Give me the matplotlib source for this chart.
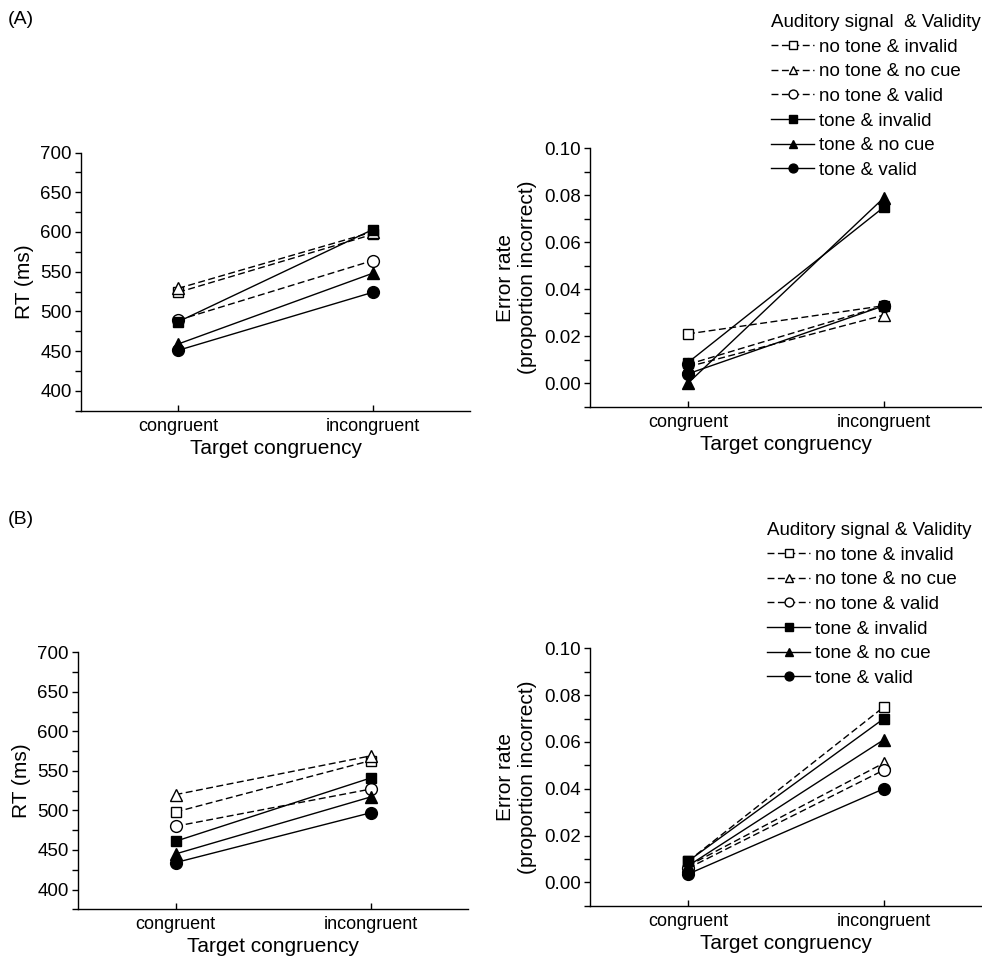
import matplotlib
matplotlib.use("Agg")
import matplotlib.pyplot as plt
from matplotlib.ticker import MultipleLocator

plt.rcParams['font.family'] = ['Liberation Sans', 'DejaVu Sans']

categories = ["congruent", "incongruent"]
series_names = ["no tone & invalid", "no tone & no cue", "no tone & valid",
                "tone & invalid", "tone & no cue", "tone & valid"]

rt_A = {
    "no tone & invalid": [524, 597],
    "no tone & no cue": [529, 600],
    "no tone & valid": [489, 564],
    "tone & invalid": [487, 603],
    "tone & no cue": [459, 548],
    "tone & valid": [451, 524],
}
err_A = {
    "no tone & invalid": [0.021, 0.033],
    "no tone & no cue": [0.007, 0.029],
    "no tone & valid": [0.008, 0.033],
    "tone & invalid": [0.0088, 0.075],
    "tone & no cue": [0.0, 0.079],
    "tone & valid": [0.004, 0.033],
}
rt_B = {
    "no tone & invalid": [498, 563],
    "no tone & no cue": [520, 569],
    "no tone & valid": [480, 527],
    "tone & invalid": [461, 541],
    "tone & no cue": [445, 517],
    "tone & valid": [434, 497],
}
err_B = {
    "no tone & invalid": [0.009, 0.075],
    "no tone & no cue": [0.007, 0.051],
    "no tone & valid": [0.006, 0.048],
    "tone & invalid": [0.009, 0.070],
    "tone & no cue": [0.007, 0.061],
    "tone & valid": [0.0035, 0.040],
}

styles = {
    "no tone & invalid": dict(ls=(0, (5, 2.5)), marker='s', mfc='white', ms=7.5),
    "no tone & no cue": dict(ls=(0, (5, 2.5)), marker='^', mfc='white', ms=8.5),
    "no tone & valid": dict(ls=(0, (5, 2.5)), marker='o', mfc='white', ms=8.5),
    "tone & invalid": dict(ls='-', marker='s', mfc='black', ms=7.5),
    "tone & no cue": dict(ls='-', marker='^', mfc='black', ms=8.5),
    "tone & valid": dict(ls='-', marker='o', mfc='black', ms=8.5),
}

W, H = 982, 968
fig = plt.figure(figsize=(W / 100, H / 100), dpi=100)


def add_ax(l, r, t, b):
    return fig.add_axes([l / W, 1 - b / H, (r - l) / W, (b - t) / H])


def style_ax(ax, ylim, major, minor, fmt=None):
    x = range(len(categories))
    ax.set_xlim(-0.5, 1.5)
    ax.set_ylim(*ylim)
    ax.set_xticks(list(x))
    ax.set_xticklabels(categories)
    ax.yaxis.set_major_locator(MultipleLocator(major))
    ax.yaxis.set_minor_locator(MultipleLocator(minor))
    if fmt:
        ax.yaxis.set_major_formatter(fmt)
    for s in ['top', 'right']:
        ax.spines[s].set_visible(False)
    for s in ['left', 'bottom']:
        ax.spines[s].set_linewidth(1.0)
    ax.tick_params(axis='y', which='major', direction='out', length=4, width=1,
                   labelsize=13.5, pad=2.5)
    ax.tick_params(axis='y', which='minor', direction='out', length=4, width=1)
    ax.tick_params(axis='x', direction='in', length=4.5, width=1,
                   labelsize=13, pad=5)
    ax.set_xlabel("Target congruency", fontsize=15, labelpad=3)


def plot_data(ax, data):
    handles = []
    for name in series_names:
        st = styles[name]
        h, = ax.plot(range(len(categories)), data[name], color='black', lw=1.0,
                     ls=st['ls'], marker=st['marker'], mfc=st['mfc'],
                     mec='black', mew=1.0, ms=st['ms'], label=name,
                     clip_on=False)
        handles.append(h)
    return handles


# Panel A
axA1 = add_ax(81, 470, 152.5, 410.7)
plot_data(axA1, rt_A)
style_ax(axA1, (375, 700), 50, 25)
axA1.set_ylabel("RT (ms)", fontsize=15, labelpad=5)

axA2 = add_ax(590, 982, 148.3, 406.7)
hA = plot_data(axA2, err_A)
style_ax(axA2, (-0.01, 0.10), 0.02, 0.01, fmt=lambda v, p: f"{v:.2f}")
axA2.set_ylabel("Error rate\n(proportion incorrect)", fontsize=15, labelpad=5)

# Panel B
axB1 = add_ax(78, 468, 652.3, 909.3)
plot_data(axB1, rt_B)
style_ax(axB1, (375, 700), 50, 25)
axB1.set_ylabel("RT (ms)", fontsize=15, labelpad=5)

axB2 = add_ax(590, 982, 648.3, 905.7)
hB = plot_data(axB2, err_B)
style_ax(axB2, (-0.01, 0.10), 0.02, 0.01, fmt=lambda v, p: f"{v:.2f}")
axB2.set_ylabel("Error rate\n(proportion incorrect)", fontsize=15, labelpad=5)

legkw = dict(loc='upper left', frameon=False, fontsize=13.5, title_fontsize=13.5,
             handlelength=2.3, handletextpad=0.25, labelspacing=0.4,
             markerscale=0.75, alignment='left', borderpad=0, borderaxespad=0)
legA = fig.legend(handles=hA, labels=series_names,
                  title="Auditory signal  & Validity",
                  bbox_to_anchor=(771 / W, 1 - 14 / H), **legkw)
legB = fig.legend(handles=hB, labels=series_names,
                  title="Auditory signal & Validity",
                  bbox_to_anchor=(767 / W, 1 - 522 / H), **legkw)

fig.text(8 / W, 1 - 20 / H, "(A)", fontsize=14, va='center', ha='left')
fig.text(8 / W, 1 - 520 / H, "(B)", fontsize=14, va='center', ha='left')

fig.savefig("out.png", dpi=100)
